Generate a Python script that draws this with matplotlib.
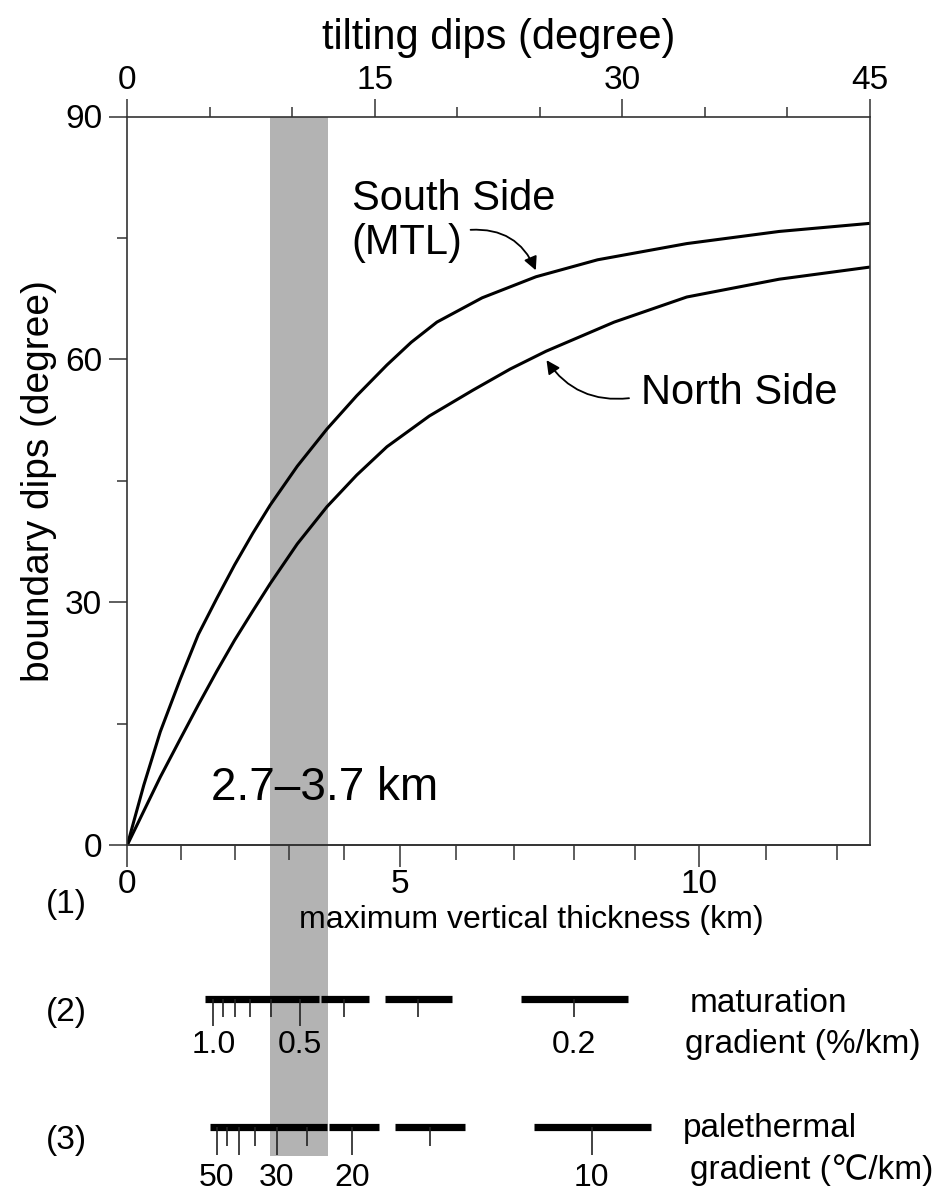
import numpy as np
import matplotlib
matplotlib.use("Agg")
import matplotlib.pyplot as plt
from matplotlib.ticker import FixedLocator, NullFormatter

plt.rcParams['font.family'] = ['Liberation Sans', 'DejaVu Sans']

# ---- data ----
# curves: tilting dip (deg) -> boundary dip (deg)
south_tilt = [0, 1, 2, 3.21, 4.3, 5.43, 6.5, 7.6, 8.66, 10.3, 12.1, 13.9, 15.73,
              17.2, 18.76, 21.5, 24.76, 28.5, 33.9, 39.5, 45]
south_dip = [0, 7.4, 14.0, 20.5, 26.0, 30.5, 34.6, 38.5, 42.0, 46.8, 51.4, 55.5, 59.3,
             62.1, 64.6, 67.6, 70.2, 72.3, 74.3, 75.8, 76.8]
north_tilt = [0, 1, 2, 3.21, 4.3, 5.43, 6.5, 7.6, 8.66, 10.3, 12.1, 13.9, 15.73,
              18.3, 20.95, 23.2, 25.37, 29.5, 33.9, 39.5, 45]
north_dip = [0, 4.2, 8.4, 13.1, 17.3, 21.5, 25.3, 28.9, 32.3, 37.2, 41.8, 45.7, 49.2,
             53.0, 56.2, 58.8, 61.0, 64.6, 67.7, 69.9, 71.4]

band_km = [2.65, 3.7]
thick_major = [0, 5, 10]
thick_minor = [1, 2, 3, 4, 6, 7, 8, 9, 11, 12]
tilt_major = [0, 15, 30, 45]
tilt_minor = [5, 10, 20, 25, 35, 40]
dip_major = [0, 30, 60, 90]
dip_minor = [15, 45, 75]

# (2) maturation gradient (%/km)
mat_long = [1.0, 0.5]
mat_short = [0.9, 0.8, 0.7, 0.6, 0.4, 0.3, 0.2]
mat_labels = [1.0, 0.5, 0.2]
mat_bars = [(1.11, 0.452), (0.448, 0.36), (0.338, 0.27), (0.225, 0.18)]

# (3) palethermal gradient (C/km)
heat_long = [50, 40, 30, 20, 10]
heat_short = [45, 35, 25, 15]
heat_labels = [50, 30, 20, 10]
heat_bars = [(54, 22.5), (22.3, 17.9), (16.9, 13.5), (11.3, 8.97)]

L_KM = 17.6    # thickness = L * sin(tilt)
MAT_K = 1.6    # thickness = MAT_K / maturation gradient
HEAT_K = 83.0  # thickness = HEAT_K / thermal gradient


def tilt_to_km(t):
    return L_KM * np.sin(np.radians(t))


def km_to_tilt(k):
    return np.degrees(np.arcsin(np.clip(np.asarray(k, float) / L_KM, -1, 1)))


# ---- layout ----
W, H = 933, 1196
fig = plt.figure(figsize=(W / 100, H / 100), dpi=100)
x0, x1, y0, y1 = 127.3, 870, 116.5, 845
ax = fig.add_axes([x0 / W, 1 - y1 / H, (x1 - x0) / W, (y1 - y0) / H])
ax.set_zorder(2)
ax.patch.set_visible(False)

bg = fig.add_axes([x0 / W, 0, (x1 - x0) / W, 1 - y0 / H])
bg.set_zorder(1)
bg.axis('off')
bg.set_xlim(0, 45)
bg.set_ylim(H, y0)  # rows in pixels, top-down

# gray band
t_a, t_b = km_to_tilt(band_km)
bg.fill_betweenx([y0, 1156], t_a, t_b, color='#b3b3b3', lw=0)

# curves
ax.plot(south_tilt, south_dip, color='k', lw=2.2, solid_joinstyle='round')
ax.plot(north_tilt, north_dip, color='k', lw=2.2, solid_joinstyle='round')
ax.set_xlim(0, 45)
ax.set_ylim(0, 90)

spine_c = '#333333'
for s in ax.spines.values():
    s.set_color(spine_c)
    s.set_linewidth(1.2)

ax.xaxis.tick_top()
ax.xaxis.set_label_position('top')
ax.set_xticks(tilt_major)
ax.set_xticks(tilt_minor, minor=True)
ax.set_yticks(dip_major)
ax.set_yticks(dip_minor, minor=True)
ax.tick_params(which='major', length=13, width=1.1, color=spine_c, labelsize=24, pad=5)
ax.tick_params(axis='x', which='major', pad=1.5)
ax.tick_params(which='minor', length=7, width=1.1, color=spine_c)
ax.set_xlabel('tilting dips (degree)', fontsize=30, labelpad=12)
ax.set_ylabel('boundary dips (degree)', fontsize=28, labelpad=6)

sec = ax.secondary_xaxis('bottom', functions=(tilt_to_km, km_to_tilt))
sec.spines['bottom'].set_color(spine_c)
sec.spines['bottom'].set_linewidth(1.2)
sec.xaxis.set_major_locator(FixedLocator(thick_major))
sec.xaxis.set_minor_locator(FixedLocator(thick_minor))
sec.xaxis.set_minor_formatter(NullFormatter())
sec.tick_params(which='major', length=16, width=1.1, color=spine_c, labelsize=24, pad=1.5)
sec.tick_params(which='minor', length=11, width=1.1, color=spine_c)

# annotations
ax.annotate('', xy=(24.75, 71.0), xytext=(20.8, 76.0),
            arrowprops=dict(arrowstyle='-|>', color='k', lw=1.3, mutation_scale=20,
                            connectionstyle='arc3,rad=-0.35', shrinkA=0, shrinkB=0))
ax.text(13.6, 82.3, 'South Side\n(MTL)', fontsize=30, ha='left', va='top', linespacing=1.15)
ax.annotate('', xy=(25.4, 59.9), xytext=(30.4, 55.2),
            arrowprops=dict(arrowstyle='-|>', color='k', lw=1.3, mutation_scale=20,
                            connectionstyle='arc3,rad=-0.3', shrinkA=0, shrinkB=0))
ax.text(31.1, 55.9, 'North Side', fontsize=30, ha='left', va='center')
ax.text(5.1, 7.0, '2.7\u20133.7 km', fontsize=33, ha='left', va='center')


# bottom scales (2) and (3)
def mat_to_tilt(g):
    return km_to_tilt(MAT_K / np.asarray(g, float))


def heat_to_tilt(g):
    return km_to_tilt(HEAT_K / np.asarray(g, float))


row2_y, row3_y = 999, 1127
for a, b in mat_bars:
    bg.hlines(row2_y, mat_to_tilt(a), mat_to_tilt(b), color='k', lw=5.2, capstyle='butt')
bg.vlines(mat_to_tilt(mat_long), row2_y, 1026, color='#222222', lw=1.2)
bg.vlines(mat_to_tilt(mat_short), row2_y, 1017, color='#222222', lw=1.2)
for g in mat_labels:
    bg.text(mat_to_tilt(g), 1045, f'{g:.1f}', fontsize=23, ha='center', va='center')

for a, b in heat_bars:
    bg.hlines(row3_y, heat_to_tilt(a), heat_to_tilt(b), color='k', lw=5.2, capstyle='butt')
bg.vlines(heat_to_tilt(heat_long), row3_y, 1155, color='#222222', lw=1.2)
bg.vlines(heat_to_tilt(heat_short), row3_y, 1146, color='#222222', lw=1.2)
for g in heat_labels:
    bg.text(heat_to_tilt(g), 1178, f'{g}', fontsize=23, ha='center', va='center')


# row labels and captions (pixel placed)
def ft(px, py, s, **kw):
    fig.text(px / W, 1 - py / H, s, **kw)


ft(531, 920, 'maximum vertical thickness (km)', fontsize=23, ha='center', va='center')
ft(66, 905, '(1)', fontsize=24, ha='center', va='center')
ft(66, 1013, '(2)', fontsize=24, ha='center', va='center')
ft(66, 1140, '(3)', fontsize=24, ha='center', va='center')
ft(690, 1003, 'maturation', fontsize=24, ha='left', va='center')
ft(685, 1045, 'gradient (%/km)', fontsize=24, ha='left', va='center')
ft(683, 1128, 'palethermal', fontsize=24, ha='left', va='center')
ft(690, 1170, 'gradient (\u2103/km)', fontsize=24, ha='left', va='center')

fig.savefig('out.png', dpi=100)
